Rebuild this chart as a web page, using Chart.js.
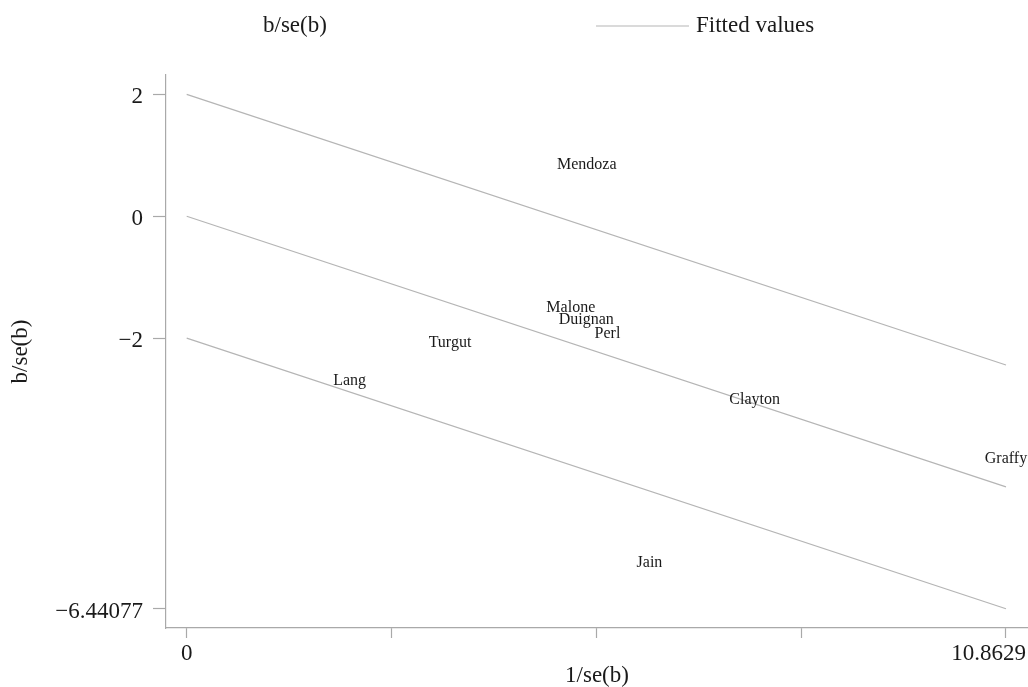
<!DOCTYPE html>
<html>
<head>
<meta charset="utf-8">
<title>Galbraith plot</title>
<script src="https://cdn.jsdelivr.net/npm/chart.js@4.4.1/dist/chart.umd.min.js"></script>
<style>
  html, body { margin: 0; padding: 0; background: #ffffff; }
  #wrap { width: 1028px; height: 687px; position: relative; }
</style>
</head>
<body>
<div id="wrap"><canvas id="chart"></canvas></div>
<script>
// Study labels placed at (precision, standardized effect)
const studies   = ['Mendoza', 'Malone', 'Duignan', 'Perl', 'Turgut', 'Lang', 'Clayton', 'Graffy', 'Jain'];
const precision = [5.304, 5.093, 5.298, 5.579, 3.491, 2.161, 7.531, 10.8629, 6.136];
const zScore    = [0.858, -1.482, -1.689, -1.919, -2.056, -2.684, -3.001, -3.964, -5.669];

// Fitted regression line and its ±2 bands
const fitX     = [0, 10.8629];
const fitUpper = [2, -2.44077];
const fitMid   = [0, -4.44077];
const fitLower = [-2, -6.44077];

// Axis ticks
const xTicks      = [0, 2.715725, 5.43145, 8.147175, 10.8629];
const xTickLabels = ['0', '', '', '', '10.8629'];
const yTicks      = [2, 0, -2, -6.44077];
const yTickLabels = ['2', '0', '\u22122', '\u22126.44077'];

const SERIF = "'Liberation Serif', 'Times New Roman', serif";
const AXIS_GREY = '#a9a9a9';
const LINE_GREY = '#b5b5b5';
const TEXT = '#1a1a1a';

function pairs(xs, ys) { return xs.map((x, i) => ({ x: x, y: ys[i] })); }

const fitStyle = {
  type: 'scatter', showLine: true, borderColor: LINE_GREY, borderWidth: 1.2,
  pointRadius: 0, pointHoverRadius: 0, fill: false
};

// Draws study names at their data positions, the x tick labels and the key
const annotate = {
  id: 'annotate',
  afterDatasetsDraw(chart) {
    const ctx = chart.ctx;
    const xs = chart.scales.x, ys = chart.scales.y;
    ctx.save();
    ctx.fillStyle = TEXT;
    ctx.font = '16px ' + SERIF;
    ctx.textAlign = 'center';
    ctx.textBaseline = 'middle';
    studies.forEach((name, i) => {
      ctx.fillText(name, xs.getPixelForValue(precision[i]), ys.getPixelForValue(zScore[i]) + 1);
    });
    ctx.restore();
  },
  afterDraw(chart) {
    const ctx = chart.ctx;
    const xs = chart.scales.x;
    ctx.save();
    ctx.fillStyle = TEXT;
    ctx.font = '23px ' + SERIF;
    ctx.textBaseline = 'middle';
    // x tick labels, kept inside the canvas
    xTicks.forEach((v, i) => {
      const label = xTickLabels[i];
      if (!label) return;
      const px = xs.getPixelForValue(v);
      const w = ctx.measureText(label).width;
      const right = Math.min(px + w / 2, chart.width - 2);
      ctx.textAlign = 'right';
      ctx.fillText(label, right, 654);
    });
    // key
    ctx.textAlign = 'left';
    ctx.fillText('b/se(b)', 263, 26);
    ctx.strokeStyle = LINE_GREY;
    ctx.lineWidth = 1.2;
    ctx.beginPath();
    ctx.moveTo(596, 26);
    ctx.lineTo(689, 26);
    ctx.stroke();
    ctx.fillText('Fitted values', 696, 26);
    ctx.restore();
  }
};

new Chart(document.getElementById('chart'), {
  type: 'scatter',
  data: {
    datasets: [
      { label: 'b/se(b)', data: pairs(precision, zScore), pointRadius: 0, pointHoverRadius: 0 },
      Object.assign({ label: 'Fitted values', data: pairs(fitX, fitUpper) }, fitStyle),
      Object.assign({ label: 'Fitted values', data: pairs(fitX, fitMid) }, fitStyle),
      Object.assign({ label: 'Fitted values', data: pairs(fitX, fitLower) }, fitStyle)
    ]
  },
  options: {
    responsive: true,
    maintainAspectRatio: false,
    animation: false,
    events: [],
    layout: { padding: { top: 75, left: 0, right: 0, bottom: 0 } },
    plugins: { legend: { display: false }, tooltip: { enabled: false } },
    scales: {
      x: {
        type: 'linear',
        min: -0.2745,
        max: 11.155,
        afterBuildTicks(scale) { scale.ticks = xTicks.map(v => ({ value: v })); },
        afterFit(scale) { scale.height = 59; },
        grid: { drawOnChartArea: false, drawTicks: true, tickLength: 10, tickColor: AXIS_GREY, tickWidth: 1.2 },
        border: { display: true, color: AXIS_GREY, width: 1.2 },
        ticks: { display: false },
        title: {
          display: true, text: '1/se(b)', color: TEXT,
          font: { family: SERIF, size: 23, lineHeight: 1 },
          padding: { top: 0, bottom: 0 }
        }
      },
      y: {
        type: 'linear',
        min: -6.757,
        max: 2.317,
        afterBuildTicks(scale) { scale.ticks = yTicks.map(v => ({ value: v })); },
        afterFit(scale) { scale.width = 166; },
        grid: { drawOnChartArea: false, drawTicks: true, tickLength: 13, tickColor: AXIS_GREY, tickWidth: 1.2 },
        border: { display: true, color: AXIS_GREY, width: 1.2 },
        ticks: {
          color: TEXT, padding: 10, labelOffset: 3,
          font: { family: SERIF, size: 23 },
          callback(value, index) { return yTickLabels[index]; }
        },
        title: {
          display: true, text: 'b/se(b)', color: TEXT,
          font: { family: SERIF, size: 23, lineHeight: 1 },
          padding: { top: 9, bottom: 0 }
        }
      }
    }
  },
  plugins: [annotate]
});
</script>
</body>
</html>
